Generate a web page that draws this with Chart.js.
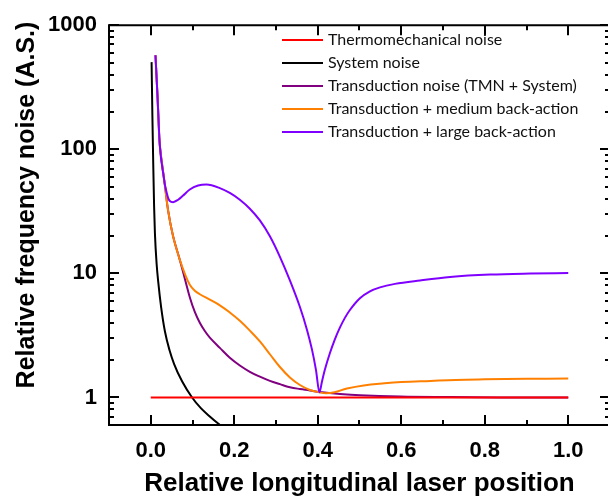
<!DOCTYPE html>
<html><head><meta charset="utf-8">
<script src="https://cdn.jsdelivr.net/npm/chart.js@4"></script>
<style>html,body{margin:0;padding:0;overflow:hidden;background:#fff}canvas{display:block}</style>
</head><body>
<canvas id="c" width="610" height="498" style="width:610px;height:498px"></canvas>
<script>
const seriesLabels = ['Thermomechanical noise','System noise','Transduction noise (TMN + System)','Transduction + medium back-action','Transduction + large back-action'];
const seriesColors = ['#ff0000','#000000','#800080','#ff8000','#8000ff'];

const thermoX = [0, 1.0];
const thermoY = [1, 1];

const systemX = [0.002,0.004,0.006,0.008,0.010,0.014,0.018,0.025,0.034,0.045,0.056,0.075,0.099,0.12,0.14,0.166,0.175];
const systemY = [504,180,75,35,21,12,8.5,5.3,3.4,2.4,1.86,1.35,1.0,0.82,0.71,0.6,0.57];

const transX = [0.0113,0.0161,0.0185,0.0216,0.0312,0.0336,0.0415,0.0535,0.0695,0.0815,0.0935,0.1055,0.1175,0.1295,0.1415,0.1655,0.1894,0.2134,0.2374,0.2614,0.2854,0.3094,0.3333,0.3573,0.3813,0.4053,0.4532,0.5012,0.597,0.717,0.837,1.0];
const transY = [572,271,178,109,59.6,52.4,32.2,19.9,12.9,9.10,6.43,4.89,4.00,3.43,3.04,2.51,2.09,1.81,1.61,1.47,1.36,1.28,1.21,1.17,1.14,1.105,1.066,1.041,1.018,1.007,1.0,1.0];

const mediumX = [0.0113,0.0161,0.0185,0.0216,0.0312,0.0336,0.0415,0.0535,0.0695,0.0815,0.0935,0.1055,0.1175,0.1415,0.1655,0.1894,0.2134,0.2374,0.2614,0.2854,0.3094,0.3333,0.3573,0.3813,0.4041,0.42,0.44,0.47,0.51,0.56,0.6,0.67,0.73,0.8,0.9,1.0];
const mediumY = [572,271,178,109,59.6,52.4,32.2,19.9,12.9,9.95,8.1,7.24,6.79,6.14,5.53,4.84,4.15,3.46,2.83,2.23,1.76,1.45,1.26,1.15,1.10,1.08,1.10,1.18,1.25,1.30,1.33,1.36,1.385,1.40,1.415,1.42];

const largeX = [0.0113,0.0161,0.0185,0.0216,0.0312,0.0336,0.0384,0.0420,0.0456,0.0535,0.0655,0.0775,0.0935,0.1134,0.1336,0.1655,0.1894,0.2134,0.2374,0.2614,0.2854,0.3094,0.3333,0.3573,0.3741,0.3861,0.3957,0.4041,0.410,0.417,0.429,0.441,0.453,0.465,0.477,0.501,0.525,0.549,0.585,0.645,0.717,0.813,0.909,1.0];
const largeY = [572,271,178,109,59.6,52.4,44.5,40.2,38.3,37.5,39.2,42.4,47.4,51.0,52.0,48.7,44.5,39.2,33.2,26.7,19.9,13.6,8.77,5.36,3.52,2.44,1.67,1.10,1.34,1.67,2.27,2.94,3.65,4.38,5.07,6.31,7.17,7.71,8.23,8.77,9.35,9.78,9.96,10.05];

const xTickValues = [0, 0.2, 0.4, 0.6, 0.8, 1.0];
const xTickLabels = ['0.0','0.2','0.4','0.6','0.8','1.0'];
const xMinorValues = [0.1, 0.3, 0.5, 0.7, 0.9];
const yTickValues = [1, 10, 100, 1000];
const yTickLabels = ['1','10','100','1000'];
const xTitle = 'Relative longitudinal laser position';
const yTitle = 'Relative frequency noise (A.S.)';

function pts(xs, ys){ return xs.map((x,i)=>({x:x, y:ys[i]})); }

const seriesData = [pts(thermoX,thermoY), pts(systemX,systemY), pts(transX,transY), pts(mediumX,mediumY), pts(largeX,largeY)];
const drawOrder = [2, 4, 3, 1, 0];
const useMonotone = [true, true, false, false, true];

const FONT = "'Liberation Sans', Arial, sans-serif";

const framePlugin = {
  id: 'frame',
  afterDraw(chart){
    const ctx = chart.ctx, a = chart.chartArea;
    const xs = chart.scales.x, ys = chart.scales.y;
    ctx.save();
    ctx.strokeStyle = '#000';
    ctx.lineWidth = 2;
    ctx.beginPath();
    ctx.rect(a.left, a.top, a.right - a.left, a.bottom - a.top);
    ctx.stroke();
    ctx.beginPath();
    const big = 10, small = 5;
    xTickValues.forEach(v=>{ const p = Math.round(xs.getPixelForValue(v));
      ctx.moveTo(p, a.bottom); ctx.lineTo(p, a.bottom - big);
      ctx.moveTo(p, a.top); ctx.lineTo(p, a.top + big); });
    xMinorValues.forEach(v=>{ const p = Math.round(xs.getPixelForValue(v));
      ctx.moveTo(p, a.bottom); ctx.lineTo(p, a.bottom - small);
      ctx.moveTo(p, a.top); ctx.lineTo(p, a.top + small); });
    yTickValues.forEach(v=>{ const p = Math.round(ys.getPixelForValue(v));
      ctx.moveTo(a.left, p); ctx.lineTo(a.left + big, p);
      ctx.moveTo(a.right, p); ctx.lineTo(a.right - big, p); });
    for (let d = 0.1; d < 1000; d *= 10) {
      for (let m = 2; m <= 9; m++) {
        const v = d * m;
        if (v < ys.min || v > ys.max) continue;
        const p = Math.round(ys.getPixelForValue(v));
        ctx.moveTo(a.left, p); ctx.lineTo(a.left + small, p);
        ctx.moveTo(a.right, p); ctx.lineTo(a.right - small, p);
      }
    }
    ctx.stroke();

    // axis titles
    ctx.fillStyle = '#000';
    ctx.font = 'bold 26px ' + FONT;
    ctx.textAlign = 'center';
    ctx.textBaseline = 'alphabetic';
    ctx.fillText(xTitle, (a.left + a.right) / 2, 491);
    ctx.save();
    ctx.translate(34, 205);
    ctx.rotate(-Math.PI / 2);
    ctx.font = 'bold 25px ' + FONT;
    ctx.fillText(yTitle, 0, 0);
    ctx.restore();

    // legend
    ctx.font = "16px Lato, 'Open Sans', sans-serif";
    ctx.textAlign = 'left';
    ctx.textBaseline = 'middle';
    seriesLabels.forEach((lab, i)=>{
      const y = 40 + i * 23;
      ctx.strokeStyle = seriesColors[i];
      ctx.lineWidth = 2;
      ctx.beginPath(); ctx.moveTo(282, y); ctx.lineTo(323, y); ctx.stroke();
      ctx.fillStyle = '#111';
      ctx.fillText(lab, 328, y);
    });
    ctx.restore();
  }
};

new Chart(document.getElementById('c'), {
  type: 'line',
  data: {
    datasets: seriesData.map((d, i)=>({
      label: seriesLabels[i],
      data: d,
      borderColor: seriesColors[i],
      backgroundColor: seriesColors[i],
      borderWidth: 2,
      pointRadius: 0,
      fill: false,
      cubicInterpolationMode: useMonotone[i] ? 'monotone' : 'default',
      tension: 0.4,
      order: drawOrder[i]
    }))
  },
  options: {
    responsive: false,
    animation: false,
    events: [],
    layout: { padding: { top: 18, right: 0, left: 0, bottom: 0 } },
    plugins: { legend: { display: false }, tooltip: { enabled: false } },
    scales: {
      x: {
        type: 'linear', min: -0.1, max: 1.1,
        grid: { display: false, drawTicks: false },
        border: { display: false },
        afterBuildTicks: s => { s.ticks = xTickValues.map(v=>({value: v})); },
        afterFit: s => { s.height = 73; },
        ticks: { padding: 13, color: '#000', font: { family: FONT, size: 22, weight: 'bold' },
          callback: (v, i) => xTickLabels[i] }
      },
      y: {
        type: 'logarithmic', min: 0.6, max: 1000,
        grid: { display: false, drawTicks: false },
        border: { display: false },
        afterBuildTicks: s => { s.ticks = yTickValues.map(v=>({value: v})); },
        afterFit: s => { s.width = 109; },
        ticks: { padding: 12, color: '#000', font: { family: FONT, size: 22, weight: 'bold' },
          callback: (v, i) => yTickLabels[i] }
      }
    }
  },
  plugins: [framePlugin]
});
</script>
</body></html>
